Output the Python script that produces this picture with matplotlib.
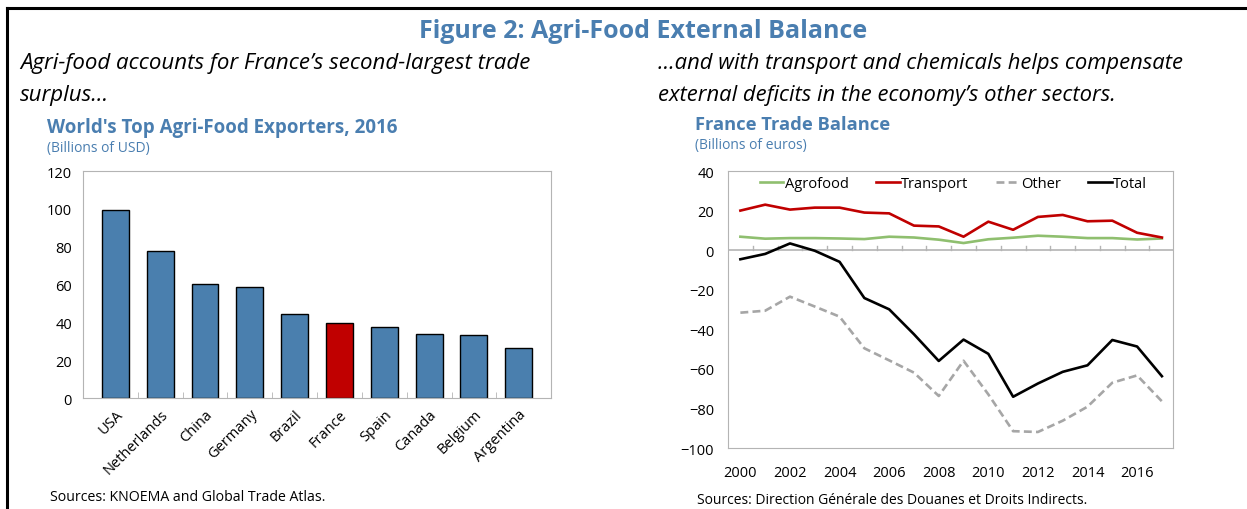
import numpy as np
import matplotlib.pyplot as plt
from matplotlib.lines import Line2D

plt.rcParams['font.family'] = ['Open Sans', 'DejaVu Sans']

# ---------------- data ----------------
countries = ['USA', 'Netherlands', 'China', 'Germany', 'Brazil', 'France',
             'Spain', 'Canada', 'Belgium', 'Argentina']
exports = [99.5, 77.5, 60.5, 58.5, 44.5, 39.8, 37.5, 34.0, 33.3, 26.3]

years = list(range(2000, 2018))
agrofood = [6.8, 5.8, 6.1, 6.1, 5.9, 5.6, 6.8, 6.4, 5.3, 3.6, 5.5, 6.3, 7.3, 6.8, 6.1, 6.1, 5.4, 5.9]
transport = [20.0, 23.0, 20.5, 21.5, 21.5, 19.0, 18.6, 12.4, 12.0, 6.8, 14.4, 10.3, 16.8, 17.8, 14.6, 14.9, 8.8, 6.4]
other = [-31.6, -30.6, -23.5, -28.5, -33.6, -49.6, -55.7, -61.9, -73.7, -55.9, -72.9, -91.5, -91.9, -86.2, -79.1, -67.0, -63.3, -76.4]
total = [-4.6, -1.9, 3.4, -0.3, -5.9, -24.2, -29.9, -42.5, -56.0, -45.2, -52.4, -74.1, -67.4, -61.5, -58.2, -45.4, -48.7, -63.7]

BLUE = '#4a7eb0'
BAR_BLUE = '#4a7fae'
RED = '#c00000'
GREEN = '#8fbf6f'
GREY = '#a6a6a6'
SPINE = '#b4b4b4'

fig = plt.figure(figsize=(12.47, 5.10), dpi=100)

# frame lines (top + left)
fig.add_artist(Line2D([0.0055, 1.0], [0.982, 0.982], color='black', lw=2.2))
fig.add_artist(Line2D([0.0055, 0.0055], [0.0, 0.982], color='black', lw=2.2))

# header texts
fig.text(0.516, 0.938, 'Figure 2: Agri-Food External Balance', ha='center', va='center',
         fontsize=18, fontweight='bold', color=BLUE)
fig.text(0.016, 0.875, 'Agri-food accounts for France’s second-largest trade', fontsize=16,
         style='italic', va='center')
fig.text(0.016, 0.812, 'surplus…', fontsize=16, style='italic', va='center')
fig.text(0.528, 0.875, '…and with transport and chemicals helps compensate', fontsize=15.8,
         style='italic', va='center')
fig.text(0.528, 0.812, 'external deficits in the economy’s other sectors.', fontsize=15.8,
         style='italic', va='center')

fig.text(0.038, 0.749, "World's Top Agri-Food Exporters, 2016", fontsize=13.5,
         fontweight='bold', color=BLUE, va='center')
fig.text(0.038, 0.709, '(Billions of USD)', fontsize=10, color=BLUE, va='center')
fig.text(0.557, 0.755, 'France Trade Balance', fontsize=13.2, fontweight='bold',
         color=BLUE, va='center')
fig.text(0.557, 0.714, '(Billions of euros)', fontsize=10, color=BLUE, va='center')

fig.text(0.040, 0.025, 'Sources: KNOEMA and Global Trade Atlas.', fontsize=10.2, va='center')
fig.text(0.559, 0.018, 'Sources: Direction Générale des Douanes et Droits Indirects.',
         fontsize=10, va='center')

# ---------------- left chart ----------------
ax1 = fig.add_axes([0.0666, 0.2176, 0.3753, 0.4451])
colors = [RED if c == 'France' else BAR_BLUE for c in countries]
x = np.arange(len(countries))
ax1.bar(x, exports, width=0.6, color=colors, edgecolor='black', linewidth=1.0)
ax1.set_xlim(-0.72, len(countries) - 0.28)
ax1.set_ylim(0, 120)
ax1.set_yticks(range(0, 121, 20))
ax1.set_xticks(x)
ax1.set_xticklabels(countries, rotation=45, ha='right', rotation_mode='anchor', fontsize=10.5)
ax1.set_xticks(x[:-1] + 0.5, minor=True)
ax1.tick_params(axis='x', which='major', length=0, pad=6)
ax1.tick_params(axis='x', which='minor', length=4, direction='in', color=SPINE)
ax1.tick_params(axis='y', length=0, labelsize=10.5, pad=8)
for s in ax1.spines.values():
    s.set_color(SPINE)

# ---------------- right chart ----------------
ax2 = fig.add_axes([0.5838, 0.1196, 0.3569, 0.5431])
ax2.plot(years, agrofood, color=GREEN, lw=1.9, label='Agrofood')
ax2.plot(years, transport, color=RED, lw=1.9, label='Transport')
ax2.plot(years, other, color=GREY, lw=1.9, ls=(0, (3, 1.6)), label='Other')
ax2.plot(years, total, color='black', lw=1.9, label='Total')
ax2.axhline(0, color=SPINE, lw=1.2, zorder=0)
ax2.set_xlim(1999.5, 2017.45)
ax2.set_ylim(-100, 40)
ax2.set_yticks(range(-100, 41, 20))
ax2.set_xticks(range(2000, 2017, 2))
ax2.tick_params(axis='x', length=0, labelsize=10.5, pad=12)
ax2.tick_params(axis='y', length=0, labelsize=10.5, pad=10)
# small tick marks on the zero line between years
for yr in years[:-1]:
    ax2.plot([yr + 0.5, yr + 0.5], [0, 2.0], color=SPINE, lw=1, zorder=0)
for s in ax2.spines.values():
    s.set_color(SPINE)
ax2.legend(loc='upper center', ncol=4, frameon=False, fontsize=10.5, handlelength=1.6,
           handletextpad=0.1, columnspacing=1.9, bbox_to_anchor=(0.507, 1.03))

fig.savefig('out.png', dpi=100)
